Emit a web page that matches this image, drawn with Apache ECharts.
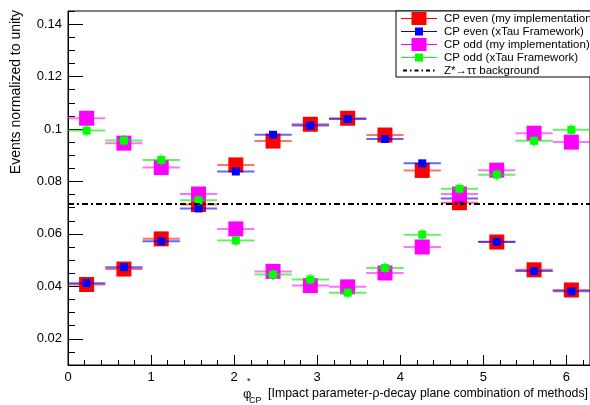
<!DOCTYPE html>
<html>
<head>
<meta charset="utf-8">
<script src="https://cdn.jsdelivr.net/npm/echarts@6/dist/echarts.min.js"></script>
<style>
html,body{margin:0;padding:0;background:#fff;}
#chart{width:590px;height:405px;}
</style>
</head>
<body>
<div id="chart"></div>
<script>
// ---- data ----
const binCenters = [0.224, 0.673, 1.122, 1.571, 2.020, 2.468, 2.917, 3.366, 3.815, 4.264, 4.712, 5.161, 5.610, 6.059];
const binHalfWidth = 0.2244;
const cpEvenMine  = [0.0407, 0.0466, 0.0581, 0.0712, 0.0863, 0.0954, 0.1018, 0.1041, 0.0977, 0.0842, 0.0719, 0.0569, 0.0463, 0.0386];
const cpEvenXTau  = [0.0412, 0.0473, 0.0572, 0.0697, 0.0838, 0.0978, 0.1013, 0.1038, 0.0962, 0.0869, 0.0735, 0.0570, 0.0458, 0.0381];
const cpOddMine   = [0.1041, 0.0946, 0.0853, 0.0752, 0.0619, 0.0457, 0.0403, 0.0398, 0.0451, 0.0550, 0.0752, 0.0843, 0.0984, 0.0950];
const cpOddXTau   = [0.0994, 0.0956, 0.0882, 0.0728, 0.0575, 0.0445, 0.0426, 0.0376, 0.0470, 0.0597, 0.0772, 0.0826, 0.0955, 0.0997];
const errEvenMine = 0.0020, errEvenXTau = 0.0013, errOddMine = 0.0020, errOddXTau = 0.0021;
const bgRange = [0, 6.2832];
const bgValue = [0.0714, 0.0714];
const seriesNames = ['CP even (my implementation)', 'CP even (xTau Framework)', 'CP odd (my implementation)', 'CP odd (xTau Framework)', 'Z*\u2192\u03c4\u03c4 background'];

const FONT = "'Liberation Sans', Arial, sans-serif";

function mk(vals, err) {
  return binCenters.map((x, i) => [x, vals[i], binHalfWidth, err]);
}

function errSeries(name, vals, err, color, lineColor, size, z) {
  return {
    type: 'custom', name: name, z: z,
    itemStyle: { color: color },
    data: mk(vals, err),
    encode: { x: 0, y: 1 },
    renderItem: function (params, api) {
      const x = api.value(0), y = api.value(1), hw = api.value(2), e = api.value(3);
      const l = api.coord([x - hw, y]), r = api.coord([x + hw, y]);
      const c = api.coord([x, y]);
      const t = api.coord([x, y + e]), b = api.coord([x, y - e]);
      return {
        type: 'group',
        children: [
          { type: 'line', shape: { x1: l[0], y1: c[1], x2: r[0], y2: c[1] }, style: { stroke: lineColor, lineWidth: 2 } },
          { type: 'line', shape: { x1: c[0], y1: t[1], x2: c[0], y2: b[1] }, style: { stroke: lineColor, lineWidth: 2 } },
          { type: 'rect', shape: { x: c[0] - size / 2, y: c[1] - size / 2, width: size, height: size }, style: { fill: color } }
        ]
      };
    }
  };
}

const bigIcon = 'path://M0,6 L36,6 L36,7 L0,7 Z M10.5,0 L25.5,0 L25.5,13 L10.5,13 Z';
const smallIcon = 'path://M0,0 L0.01,0 L0.01,0.01 Z M0,6 L36,6 L36,7 L0,7 Z M14,2.5 L22,2.5 L22,10.5 L14,10.5 Z M35.99,13 L36,13 L36,12.99 Z';
const bigIcon2 = 'path://M0,6 L36,6 L36,7 L0,7 Z M10.5,0 L25.5,0 L25.5,13 L10.5,13 Z';
const dashIcon = 'path://M0,0 L0.01,0 L0.01,0.01 Z M2,5.5 h4 v2 h-4 Z M9,5.5 h1.5 v2 h-1.5 Z M13.5,5.5 h4 v2 h-4 Z M20.5,5.5 h1.5 v2 h-1.5 Z M25,5.5 h4 v2 h-4 Z M32,5.5 h1.5 v2 h-1.5 Z M35.99,13 L36,13 L36,12.99 Z';

const chart = echarts.init(document.getElementById('chart'), null, { renderer: 'canvas' });
chart.setOption({
  animation: false,
  backgroundColor: '#fff',
  textStyle: { fontFamily: FONT },
  grid: { left: 68, right: 0, top: 11, bottom: 40, show: true, borderColor: '#000', borderWidth: 1, backgroundColor: 'transparent' },
  legend: {
    orient: 'vertical', left: 396, top: 11,
    padding: [1, 40, 0, 5], itemGap: 0, itemWidth: 36, itemHeight: 13,
    backgroundColor: '#fff', borderColor: '#000', borderWidth: 1,
    selectedMode: false,
    textStyle: { fontFamily: FONT, fontSize: 11.5, color: '#000', lineHeight: 13, padding: [0, 0, 0, 2] },
    data: [
      { name: seriesNames[0], icon: bigIcon },
      { name: seriesNames[1], icon: smallIcon },
      { name: seriesNames[2], icon: bigIcon2 },
      { name: seriesNames[3], icon: smallIcon },
      { name: seriesNames[4], icon: dashIcon, itemStyle: { color: '#000' } }
    ]
  },
  xAxis: [
    {
      type: 'value', min: bgRange[0], max: bgRange[1], minInterval: 1, maxInterval: 1, position: 'bottom',
      axisLine: { onZero: false, lineStyle: { color: '#000', width: 1 } },
      axisTick: { inside: true, length: 10, lineStyle: { color: '#000' } },
      axisLabel: { showMaxLabel: false, color: '#000', fontSize: 13, fontFamily: FONT, margin: 6 },
      splitLine: { show: false }
    },
    {
      type: 'value', min: bgRange[0], max: bgRange[1], interval: 0.2, position: 'bottom',
      axisLine: { show: false, onZero: false },
      axisTick: { inside: true, length: 5, lineStyle: { color: '#000' } },
      axisLabel: { show: false },
      splitLine: { show: false }
    }
  ],
  yAxis: [
    {
      type: 'value', min: 0.01, max: 0.145, minInterval: 0.02, maxInterval: 0.02, position: 'left',
      axisLine: { show: true, onZero: false, lineStyle: { color: '#000', width: 1 } },
      axisTick: { show: true, inside: true, length: 15, lineStyle: { color: '#000' } },
      axisLabel: { showMinLabel: false, showMaxLabel: false, color: '#000', fontSize: 13, fontFamily: FONT, margin: 6 },
      splitLine: { show: false }
    },
    {
      type: 'value', min: 0.01, max: 0.145, interval: 0.005, position: 'left',
      axisLine: { show: false, onZero: false },
      axisTick: { show: true, inside: true, length: 7, lineStyle: { color: '#000' } },
      axisLabel: { show: false },
      splitLine: { show: false }
    }
  ],
  series: [
    errSeries(seriesNames[0], cpEvenMine, errEvenMine, '#ff0000', 'rgba(255,0,0,0.55)', 15, 2),
    errSeries(seriesNames[1], cpEvenXTau, errEvenXTau, '#0000ff', 'rgba(0,0,255,0.6)', 8, 3),
    errSeries(seriesNames[2], cpOddMine, errOddMine, '#ff00ff', 'rgba(255,0,255,0.55)', 15, 4),
    errSeries(seriesNames[3], cpOddXTau, errOddXTau, '#00ff00', 'rgba(0,230,0,0.6)', 8, 5),
    {
      type: 'line', name: seriesNames[4], z: 6,
      data: bgRange.map((x, i) => [x, bgValue[i]]),
      showSymbol: false, symbol: 'none',
      itemStyle: { color: '#000' },
      lineStyle: { color: '#000', width: 2, type: [6, 3, 2, 3] }
    }
  ],
  graphic: [
    { type: 'text', x: 16, y: 10, rotation: Math.PI / 2,
      style: { text: 'Events normalized to unity', font: '14px ' + FONT, fill: '#000', textAlign: 'right', textVerticalAlign: 'middle' } },
    { type: 'text', x: 588, y: 394,
      style: { text: '[Impact parameter-\u03c1-decay plane combination of methods]', font: '12.35px ' + FONT, fill: '#000', textAlign: 'right', textVerticalAlign: 'middle' } },
    { type: 'text', x: 243, y: 394,
      style: { text: '\u03c6', font: '13px ' + FONT, fill: '#000', textAlign: 'left', textVerticalAlign: 'middle' } },
    { type: 'text', x: 247, y: 382,
      style: { text: '*', font: '9px ' + FONT, fill: '#000', textAlign: 'left', textVerticalAlign: 'middle' } },
    { type: 'text', x: 249, y: 401,
      style: { text: 'CP', font: '9px ' + FONT, fill: '#000', textAlign: 'left', textVerticalAlign: 'middle' } }
  ]
});
</script>
</body>
</html>
